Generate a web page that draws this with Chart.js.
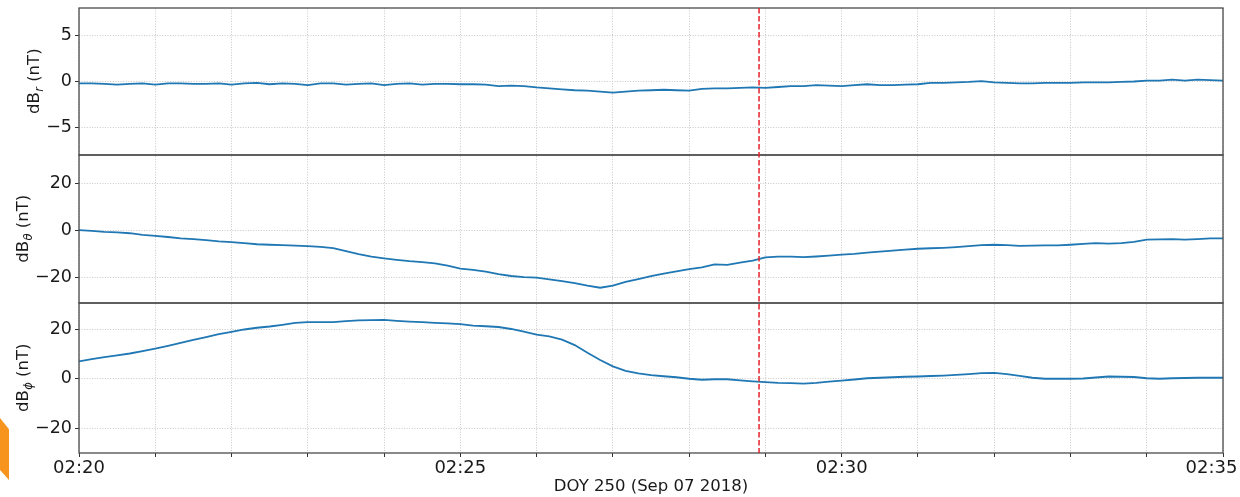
<!DOCTYPE html>
<html><head><meta charset="utf-8">
<script src="https://cdn.jsdelivr.net/npm/chart.js@4.4.0/dist/chart.umd.min.js"></script>
<style>
html,body{margin:0;padding:0;background:#fff;overflow:hidden;}
#wrap{position:relative;width:1240px;height:497px;}
#c{position:absolute;left:0;top:0;}
#tab{position:absolute;left:0;top:418px;width:9px;height:62px;background:#f7941d;clip-path:polygon(0 0,100% 18%,100% 100%,0 84%);}
</style></head><body>
<div id="wrap"><canvas id="c" width="1240" height="497"></canvas><div id="tab"></div></div>
<script>
// time in seconds after 02:20:00
const timeSec = [0,10,20,30,40,50,60,70,80,90,100,110,120,130,140,150,160,170,180,190,200,210,220,230,240,250,260,270,280,290,300,310,320,330,340,350,360,370,380,390,400,410,420,430,440,450,460,470,480,490,500,510,520,530,540,550,560,570,580,590,600,610,620,630,640,650,660,670,680,690,700,710,720,730,740,750,760,770,780,790,800,810,820,830,840,850,860,870,880,890,900];

const dBr = [-0.2,-0.2,-0.25,-0.35,-0.25,-0.2,-0.35,-0.2,-0.2,-0.25,
  -0.25,-0.2,-0.35,-0.2,-0.15,-0.3,-0.2,-0.25,-0.4,-0.2,
  -0.2,-0.35,-0.25,-0.2,-0.4,-0.25,-0.2,-0.35,-0.25,-0.25,
  -0.3,-0.3,-0.35,-0.5,-0.45,-0.5,-0.65,-0.75,-0.85,-0.95,
  -1.0,-1.1,-1.2,-1.1,-1.0,-0.95,-0.9,-0.95,-1.0,-0.8,
  -0.75,-0.75,-0.7,-0.65,-0.7,-0.6,-0.5,-0.5,-0.4,-0.45,
  -0.5,-0.4,-0.3,-0.4,-0.4,-0.35,-0.3,-0.15,-0.15,-0.1,
  -0.05,0.05,-0.1,-0.15,-0.2,-0.2,-0.15,-0.15,-0.15,-0.1,
  -0.1,-0.1,-0.05,0.0,0.1,0.1,0.2,0.1,0.2,0.15,
  0.1];

const dBtheta = [0,-0.3,-0.7,-0.9,-1.3,-2.0,-2.4,-2.9,-3.5,-3.8,
  -4.2,-4.8,-5.1,-5.5,-6.0,-6.2,-6.4,-6.6,-6.8,-7.1,
  -7.6,-8.9,-10.2,-11.3,-12.0,-12.6,-13.2,-13.6,-14.1,-15.1,
  -16.4,-16.9,-17.6,-18.7,-19.5,-20.0,-20.2,-20.9,-21.7,-22.5,
  -23.6,-24.5,-23.6,-22.0,-20.8,-19.6,-18.5,-17.5,-16.6,-15.8,
  -14.6,-14.8,-13.8,-13.0,-11.6,-11.3,-11.3,-11.5,-11.2,-10.8,
  -10.4,-10.1,-9.6,-9.1,-8.7,-8.3,-7.9,-7.7,-7.5,-7.2,
  -6.8,-6.4,-6.2,-6.4,-6.7,-6.6,-6.5,-6.5,-6.2,-5.8,
  -5.5,-5.7,-5.5,-5.0,-4.0,-3.9,-3.8,-4.0,-3.8,-3.5,
  -3.5];

const dBphi = [7.0,7.9,8.7,9.4,10.2,11.2,12.2,13.3,14.5,15.7,
  16.8,18.0,18.9,19.9,20.6,21.1,21.8,22.6,22.9,22.9,
  22.9,23.3,23.6,23.7,23.8,23.4,23.1,22.9,22.6,22.4,
  22.1,21.5,21.2,20.9,20.1,19.0,17.8,17.1,15.8,13.6,
  10.5,7.6,5.0,3.2,2.2,1.5,1.0,0.6,0.0,-0.4,
  -0.2,-0.2,-0.7,-1.1,-1.4,-1.7,-1.8,-2.0,-1.7,-1.2,
  -0.8,-0.3,0.2,0.4,0.6,0.8,0.9,1.1,1.3,1.6,
  1.9,2.3,2.4,1.9,1.2,0.4,0.0,0.0,0.0,0.1,
  0.5,0.9,0.8,0.7,0.2,0.0,0.2,0.3,0.4,0.4,
  0.4];

const xTickSec = [0,60,120,180,240,300,360,420,480,540,600,660,720,780,840,900];
const xTickLabels = ['02:20','','','','','02:25','','','','','02:30','','','','','02:35'];
const xTitle = 'DOY 250 (Sep 07 2018)';
const yTicksR = [-5,0,5];
const yTicksTheta = [-20,0,20];
const yTicksPhi = [-20,0,20];
const redLineSec = 535;

const FONT = 'DejaVu Sans';
const TXT = '#1a1a1a';
const GRID = '#c2c2c2';
const fmt = v => (v < 0 ? '\u2212' + Math.abs(v) : String(v));

function yScale(min, max, ticksArr, weight) {
  return {
    type: 'linear', position: 'left', stack: 'panels', stackWeight: weight, offset: false,
    min: min, max: max,
    afterBuildTicks: s => { s.ticks = ticksArr.map(v => ({value: v})); },
    afterFit: s => { s.width = 79; s.paddingTop = 0; s.paddingBottom = 0; },
    ticks: {autoSkip: false, font: {family: FONT, size: 17.5}, color: TXT, padding: 3, callback: v => fmt(v)},
    grid: {color: GRID, lineWidth: 0.9, tickLength: 4, tickColor: '#333', tickWidth: 1, tickBorderDash: []},
    border: {display: false, dash: [1, 1.6]}
  };
}

const toXY = arr => arr.map((v, i) => ({x: timeSec[i], y: v}));
const lineDs = (arr, axis) => ({data: toXY(arr), yAxisID: axis, borderColor: '#1f77b4', borderWidth: 1.8,
  pointRadius: 0, tension: 0, fill: false});

function drawYTitle(ctx, scale, sub) {
  ctx.save();
  ctx.font = '17.5px "' + FONT + '"';
  let maxW = 0;
  scale.ticks.forEach(t => { maxW = Math.max(maxW, ctx.measureText(fmt(t.value)).width); });
  const cx = scale.right - 7 - maxW - 13;
  const cy = (scale.top + scale.bottom) / 2;
  ctx.translate(cx, cy);
  ctx.rotate(-Math.PI / 2);
  const mainF = '16.5px "' + FONT + '"';
  const subF = 'italic 11.5px "' + FONT + '"';
  ctx.font = mainF; const w1 = ctx.measureText('dB').width; const w3 = ctx.measureText(' (nT)').width;
  ctx.font = subF; const w2 = ctx.measureText(sub).width;
  const x0 = -(w1 + w2 + w3) / 2;
  const base = 6;
  ctx.fillStyle = TXT; ctx.textAlign = 'left'; ctx.textBaseline = 'alphabetic';
  ctx.font = mainF; ctx.fillText('dB', x0, base);
  ctx.font = subF; ctx.fillText(sub, x0 + w1 + 0.5, base + 3.5);
  ctx.font = mainF; ctx.fillText(' (nT)', x0 + w1 + w2 + 0.5, base);
  ctx.restore();
}

const panelPlugin = {
  id: 'panels',
  afterDatasetsDraw(chart) {
    const {ctx, chartArea: ca, scales} = chart;
    ctx.save();
    ctx.strokeStyle = '#4a4a4a'; ctx.lineWidth = 1.3; ctx.setLineDash([]);
    ['yR', 'yTheta', 'yPhi'].forEach(id => {
      const s = scales[id];
      ctx.strokeRect(ca.left, s.top, ca.right - ca.left, s.bottom - s.top);
    });
    const x = scales.x.getPixelForValue(redLineSec);
    ctx.strokeStyle = '#e3242b'; ctx.lineWidth = 1.5; ctx.setLineDash([5.5, 2.5]);
    ctx.beginPath(); ctx.moveTo(x, ca.top); ctx.lineTo(x, ca.bottom); ctx.stroke();
    ctx.restore();
    drawYTitle(ctx, scales.yR, 'r');
    drawYTitle(ctx, scales.yTheta, '\u03b8');
    drawYTitle(ctx, scales.yPhi, '\u03d5');
  }
};

new Chart(document.getElementById('c'), {
  type: 'line',
  data: {datasets: [lineDs(dBr, 'yR'), lineDs(dBtheta, 'yTheta'), lineDs(dBphi, 'yPhi')]},
  options: {
    responsive: false, animation: false, devicePixelRatio: 1,
    layout: {padding: {left: 0, right: 17, top: 8, bottom: 0}},
    plugins: {legend: {display: false}, tooltip: {enabled: false}},
    scales: {
      x: {
        type: 'linear', min: 0, max: 900,
        afterBuildTicks: s => { s.ticks = xTickSec.map(v => ({value: v})); },
        afterFit: s => { s.height = 44; s.paddingLeft = 0; s.paddingRight = 0; },
        ticks: {autoSkip: false, maxRotation: 0, font: {family: FONT, size: 18}, color: TXT, padding: 1,
          callback: (v, i) => (i === xTickLabels.length - 1 ? xTickLabels[i] + '\u2007\u2007' : xTickLabels[i])},
        grid: {color: GRID, lineWidth: 0.9, tickLength: 4, tickColor: '#333', tickWidth: 1, tickBorderDash: []},
        border: {display: false, dash: [1, 1.6]},
        title: {display: true, text: xTitle, font: {family: FONT, size: 16.5}, color: TXT, padding: {top: 0, bottom: 0}}
      },
      yPhi: yScale(-30, 30.6, yTicksPhi, 150),
      yTheta: yScale(-31, 32, yTicksTheta, 148),
      yR: yScale(-8, 8, yTicksR, 147)
    }
  },
  plugins: [panelPlugin]
});
</script>
</body></html>
